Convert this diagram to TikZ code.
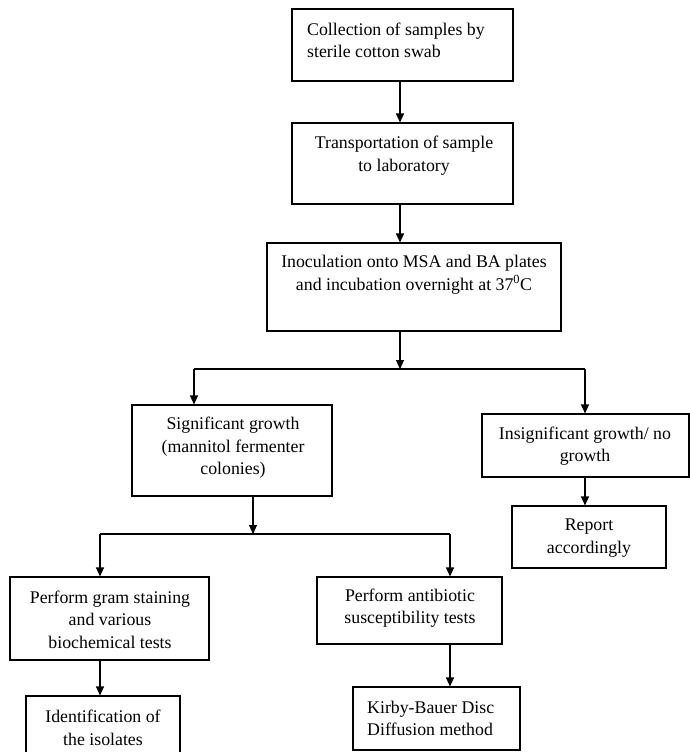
\documentclass[tikz,border=0pt]{standalone}
\usepackage{fontspec}
\setmainfont{Liberation Serif}
\usetikzlibrary{arrows.meta}
\tikzset{
	box/.style={draw, line width=1.1pt, inner sep=0pt},
	txt/.style={inner sep=0pt, align=center, font=\fontsize{17.8}{22.5}\selectfont},
	arr/.style={line width=1.1pt, -{Triangle[length=9pt,width=8pt]}}
}

\begin{document}
\begin{tikzpicture}[x=1pt,y=1pt,yscale=-1,xscale=1]
\useasboundingbox (0,0) rectangle (690,752);

% boxes
\node[box, minimum width=221pt, minimum height=72pt] (collect) at (402.5,45) {};
\node[box, minimum width=221pt, minimum height=81pt] (transport) at (402.5,163.5) {};
\node[box, minimum width=294pt, minimum height=88pt] (inoc) at (414,287) {};
\node[box, minimum width=200pt, minimum height=91pt] (signif) at (232,450.5) {};
\node[box, minimum width=207pt, minimum height=63pt] (insig) at (585.5,445.5) {};
\node[box, minimum width=154pt, minimum height=62pt] (report) at (589,537) {};
\node[box, minimum width=199pt, minimum height=83pt] (gram) at (109.5,618.5) {};
\node[box, minimum width=154pt, minimum height=62pt] (ident) at (103,727) {};
\node[box, minimum width=185pt, minimum height=67pt] (antib) at (409.5,610.5) {};
\node[box, minimum width=167pt, minimum height=63pt] (kirby) at (436.5,718.5) {};

% texts
\node[txt, align=left, anchor=west] (collectTxt) at (307,40.5) {Collection of samples by\\sterile cotton swab};
\node[txt] (transportTxt) at (404,155.5) {Transportation of sample\\to laboratory};
\node[txt] (inocTxt) at (414,274.5) {Inoculation onto MSA and BA plates\\and incubation overnight at 37\textsuperscript{0}C};
\node[txt] (signifTxt) at (233,448) {Significant growth\\(mannitol fermenter\\colonies)};
\node[txt] (insigTxt) at (585,446) {Insignificant growth/ no\\growth};
\node[txt] (reportTxt) at (589,538) {Report\\accordingly};
\node[txt] (gramTxt) at (110,619.5) {Perform gram staining\\and various\\biochemical tests};
\node[txt] (identTxt) at (103,728) {Identification of\\the isolates};
\node[txt] (antibTxt) at (410,608) {Perform antibiotic\\susceptibility tests};
\node[txt, align=left, anchor=west] (kirbyTxt) at (367,718.5) {Kirby-Bauer Disc\\Diffusion method};

% branch points
\coordinate (forkA) at (400,369);
\coordinate (forkAL) at (194,369);
\coordinate (forkAR) at (585,369);
\coordinate (forkB) at (253,534);
\coordinate (forkBL) at (100,534);
\coordinate (forkBR) at (450,534);

% connectors
\draw[arr] (forkA |- collect.south) -- (forkA |- transport.north);
\draw[arr] (forkA |- transport.south) -- (forkA |- inoc.north);
\draw[arr] (forkA |- inoc.south) -- (forkA);
\draw[line width=1.1pt] (forkAL) -- (forkAR);
\draw[arr] (forkAL) -- (forkAL |- signif.north);
\draw[arr] (forkAR) -- (forkAR |- insig.north);
\draw[arr] (forkAR |- insig.south) -- (forkAR |- report.north);
\draw[arr] (forkB |- signif.south) -- (forkB);
\draw[line width=1.1pt] (forkBL) -- (forkBR);
\draw[arr] (forkBL) -- (forkBL |- gram.north);
\draw[arr] (forkBR) -- (forkBR |- antib.north);
\draw[arr] (forkBL |- gram.south) -- (forkBL |- ident.north);
\draw[arr] (forkBR |- antib.south) -- (forkBR |- kirby.north);

\end{tikzpicture}
\end{document}
